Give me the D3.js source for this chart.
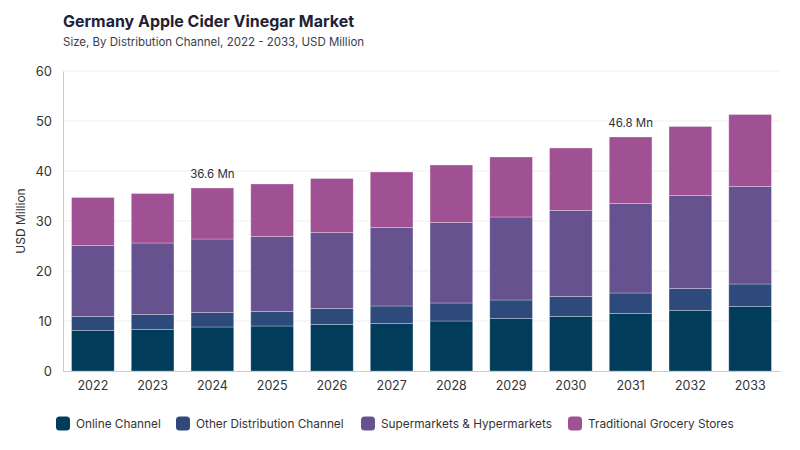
<!DOCTYPE html>
<html>
<head>
<meta charset="utf-8">
<script src="https://cdn.jsdelivr.net/npm/d3@7"></script>
<style>
  html, body { margin: 0; padding: 0; background: #fff; }
  svg { display: block; font-family: Inter, "Noto Sans", sans-serif; }
</style>
</head>
<body>
<svg id="chart" width="800" height="450"></svg>
<script>
const years = ["2022","2023","2024","2025","2026","2027","2028","2029","2030","2031","2032","2033"];
const seriesNames = ["Online Channel","Other Distribution Channel","Supermarkets & Hypermarkets","Traditional Grocery Stores"];
const online      = [8.1, 8.3, 8.8, 9.0, 9.3, 9.5, 10.0, 10.5, 10.9, 11.5, 12.1, 12.9];
const otherDist   = [2.8, 3.0, 2.9, 2.9, 3.2, 3.5, 3.6, 3.7, 4.0, 4.1, 4.4, 4.5];
const supermarket = [14.2, 14.3, 14.7, 15.0, 15.2, 15.7, 16.1, 16.6, 17.2, 17.9, 18.6, 19.5];
const traditional = [9.6, 9.9, 10.2, 10.5, 10.8, 11.1, 11.5, 12.0, 12.5, 13.3, 13.8, 14.4];
const yTicks = [0, 10, 20, 30, 40, 50, 60];
const annotated = ["2024", "2031"];
const colors = ["#013D5B", "#2E4A7A", "#66528F", "#A05193"];

const seriesValues = [online, otherDist, supermarket, traditional];
const table = years.map((y, i) => {
  const row = { year: y };
  seriesNames.forEach((s, k) => row[s] = seriesValues[k][i]);
  return row;
});

const svg = d3.select("#chart");
const margin = { left: 63, right: 20, top: 71, bottom: 79 };
const W = 800, H = 450;

const x = d3.scaleBand().domain(years).range([margin.left, W - margin.right])
  .paddingInner(0.286).paddingOuter(0.143);
const y = d3.scaleLinear().domain([0, 60]).range([H - margin.bottom, margin.top]);

// title
svg.append("text").attr("x", 63).attr("y", 27)
  .attr("font-size", 16).attr("font-weight", 700).attr("fill", "#1E2235")
  .attr("textLength", 291).attr("lengthAdjust", "spacingAndGlyphs")
  .text("Germany Apple Cider Vinegar Market");
svg.append("text").attr("x", 63).attr("y", 46)
  .attr("font-size", 11.5).attr("fill", "#3a3d4a")
  .text("Size, By Distribution Channel, 2022 - 2033, USD Million");

// gridlines
svg.append("g").selectAll("line").data(yTicks.filter(t => t > 0)).join("line")
  .attr("x1", margin.left).attr("x2", W - margin.right)
  .attr("y1", d => y(d)).attr("y2", d => y(d))
  .attr("stroke", "#efefef").attr("stroke-width", 1);

// y axis
const yAxis = svg.append("g").attr("transform", `translate(${margin.left},0)`)
  .call(d3.axisLeft(y).tickValues(yTicks).tickSize(0).tickPadding(11));
yAxis.select(".domain").attr("stroke", "#cccccc");
yAxis.selectAll("text").attr("font-size", 13).attr("fill", "#333").attr("font-family", "Inter, sans-serif");

svg.append("text")
  .attr("transform", `translate(25,${(y(0) + y(60)) / 2}) rotate(-90)`)
  .attr("text-anchor", "middle").attr("font-size", 12).attr("fill", "#333")
  .text("USD Million");

// stacked bars
const stack = d3.stack().keys(seriesNames)(table);
svg.append("g").selectAll("g").data(stack).join("g")
  .attr("fill", (d, i) => colors[i])
  .selectAll("rect").data(d => d).join("rect")
  .attr("x", d => x(d.data.year))
  .attr("width", x.bandwidth())
  .attr("y", d => y(d[1]))
  .attr("height", d => y(d[0]) - y(d[1]))
  .attr("stroke", "rgba(255,255,255,0.35)")
  .attr("stroke-width", 0.8);

// x axis
const xAxis = svg.append("g").attr("transform", `translate(0,${y(0)})`)
  .call(d3.axisBottom(x).tickSize(0).tickPadding(10));
xAxis.select(".domain").attr("stroke", "#cccccc");
xAxis.selectAll("text").attr("font-size", 12.5).attr("fill", "#333").attr("font-family", "Inter, sans-serif");

// annotations
const totals = table.map(r => seriesNames.reduce((a, s) => a + r[s], 0));
svg.append("g").selectAll("text").data(years.filter(yy => annotated.includes(yy))).join("text")
  .attr("x", d => x(d) + x.bandwidth() / 2)
  .attr("y", d => y(totals[years.indexOf(d)]) - 10)
  .attr("text-anchor", "middle").attr("font-size", 11.5).attr("fill", "#2d3040")
  .text(d => totals[years.indexOf(d)].toFixed(1) + " Mn");

// legend
const legendX = [56, 176, 361, 568];
const lg = svg.append("g").selectAll("g").data(seriesNames).join("g")
  .attr("transform", (d, i) => `translate(${legendX[i]},416.5)`);
lg.append("rect").attr("width", 14).attr("height", 14).attr("rx", 3.5)
  .attr("fill", (d, i) => colors[i]);
lg.append("text").attr("x", 20).attr("y", 11.5)
  .attr("font-size", 11.8).attr("fill", "#333").text(d => d);
</script>
</body>
</html>
